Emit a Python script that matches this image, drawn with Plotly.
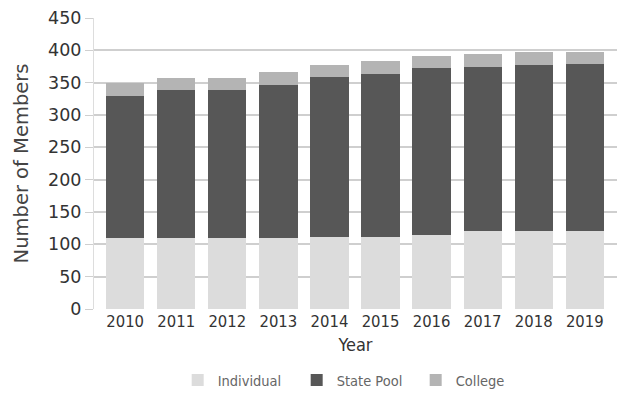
import plotly.graph_objects as go

years = ["2010", "2011", "2012", "2013", "2014", "2015", "2016", "2017", "2018", "2019"]
individual = [110, 110, 110, 110, 111, 112, 114, 120, 120, 120]
state_pool = [220, 229, 229, 236, 247, 252, 258, 255, 257, 259]
college = [20, 18, 18, 20, 19, 19, 20, 19, 21, 19]

fig = go.Figure()
fig.add_trace(go.Bar(x=years, y=individual, name="Individual",
                     marker=dict(color="#dcdcdc", line=dict(width=0))))
fig.add_trace(go.Bar(x=years, y=state_pool, name="State Pool",
                     marker=dict(color="#575757", line=dict(width=0))))
fig.add_trace(go.Bar(x=years, y=college, name="College",
                     marker=dict(color="#b4b4b4", line=dict(width=0))))

fig.update_layout(
    barmode="stack",
    bargap=0.25,
    width=617, height=396,
    margin=dict(l=94, r=0, t=18, b=83),
    plot_bgcolor="white", paper_bgcolor="white",
    font=dict(family="DejaVu Sans", color="#333333"),
    xaxis=dict(
        range=[-0.61, 9.63],
        tickfont=dict(family="DejaVu Sans Condensed", size=16.5, color="#333333"),
        title=dict(text="Year", font=dict(family="DejaVu Sans Condensed", size=18, color="#333333"), standoff=8),
        showgrid=False, showline=False, ticks="",
    ),
    yaxis=dict(
        range=[0, 450], dtick=50,
        tickfont=dict(family="DejaVu Sans", size=17.5, color="#333333"),
        title=dict(text="Number of Members", font=dict(family="DejaVu Sans", size=19.5, color="#444444"), standoff=14),
        showgrid=True, gridcolor="#cfcfcf", gridwidth=1.5,
        showline=True, linecolor="#dddddd", linewidth=1,
        ticks="outside", ticklen=8, tickcolor="#cfcfcf",
        zeroline=False,
    ),
    legend=dict(orientation="h", x=0.16, xanchor="left", y=-0.245, yanchor="middle",
                font=dict(family="DejaVu Sans Condensed", size=14.5, color="#666666"),
                entrywidth=74, itemwidth=30, traceorder="normal"),
)

fig.write_html("out.html")
